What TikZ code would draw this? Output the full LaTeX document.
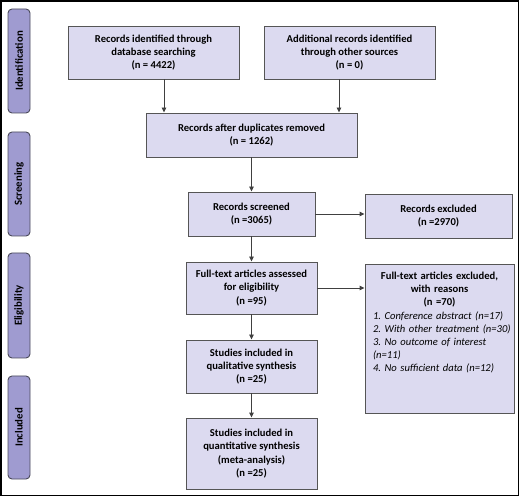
\documentclass[tikz,border=0pt]{standalone}
\usepackage{fontspec}
\setmainfont{Carlito}
\usetikzlibrary{arrows.meta}
\definecolor{boxfill}{HTML}{DCDAF0}
\definecolor{sidefill}{HTML}{9F9BD0}
\definecolor{boxline}{HTML}{555555}
\definecolor{sideline}{HTML}{4A4A5A}
\definecolor{arrline}{HTML}{404040}
\tikzset{
  stagebox/.style={draw=boxline, fill=boxfill, line width=0.9pt, inner sep=2pt,
    align=center, font=\fontsize{10.6}{13.3}\selectfont\bfseries},
  sidebox/.style={draw=sideline, fill=sidefill, line width=0.9pt, rounded corners=4pt,
    rotate=90, minimum height=22pt, inner sep=0pt, font=\fontsize{10.8}{12}\selectfont\bfseries},
  arr/.style={draw=arrline, line width=0.9pt, -{Triangle[length=5pt,width=4.5pt]}},
}
\begin{document}
\frenchspacing
\begin{tikzpicture}[x=1pt,y=-1pt]
\useasboundingbox (0,0) rectangle (520,497);
\draw[line width=1.2pt] (1,1) rectangle (518.5,495.5);

\node[sidebox, minimum width=104pt] (s1) at (19,61) {Identification};
\node[sidebox, minimum width=104pt] (s2) at (19,184) {Screening};
\node[sidebox, minimum width=105pt] (s3) at (19,305.5) {Eligibility};
\node[sidebox, minimum width=103pt] (s4) at (19,427.5) {Included};

\node[stagebox, minimum width=171pt, minimum height=53pt] (b1) at (153.5,52.5)
  {Records identified through\\database searching\\(n = 4422)};
\node[stagebox, minimum width=171pt, minimum height=53pt] (b2) at (349.5,52.5)
  {Additional records identified\\through other sources\\(n = 0)};
\node[stagebox, minimum width=211pt, minimum height=44pt] (b3) at (251.5,135)
  {Records after duplicates removed\\(n = 1262)};
\node[stagebox, minimum width=127pt, minimum height=44pt] (b4) at (251.5,214)
  {Records screened\\(n =3065)};
\node[stagebox, minimum width=147pt, minimum height=44pt] (b5) at (438.5,216)
  {Records excluded\\(n =2970)};
\node[stagebox, minimum width=131pt, minimum height=52pt] (b6) at (251.5,288)
  {Full-text articles assessed\\for eligibility\\(n =95)};
\node[stagebox, minimum width=149pt, minimum height=149pt] (b7) at (439.5,338.5) {};
\node[anchor=north, text width=133pt, inner sep=0pt, align=left,
  font=\fontsize{10.6}{13.1}\selectfont] (b7t) at ([yshift=-8.5pt]b7.north)
  {{\centering\bfseries Full-text articles excluded,\\with reasons\\(n =70)\par}
   \itshape \mbox{1. Conference abstract (n=17)}\\\mbox{2. With other treatment (n=30)}\\\mbox{3. No outcome of interest}\\(n=11)\\\mbox{4. No sufficient data (n=12)}};
\node[stagebox, minimum width=131pt, minimum height=53pt] (b8) at (251.5,366.5)
  {Studies included in\\qualitative synthesis\\(n =25)};
\node[stagebox, minimum width=131pt, minimum height=71pt] (b9) at (251.5,453.5)
  {Studies included in\\quantitative synthesis\\(meta-analysis)\\(n =25)};

\draw[arr] ([xshift=10.5pt]b1.south) -- ([xshift=10.5pt]b1.south |- b3.north);
\draw[arr] ([xshift=-10.5pt]b2.south) -- ([xshift=-10.5pt]b2.south |- b3.north);
\draw[arr] (b3) -- (b4);
\draw[arr] (b4.east) -- (b4.east -| b5.west);
\draw[arr] (b4) -- (b6);
\draw[arr] (b6.east) -- (b6.east -| b7.west);
\draw[arr] (b6) -- (b8);
\draw[arr] (b8) -- (b9);
\end{tikzpicture}
\end{document}
